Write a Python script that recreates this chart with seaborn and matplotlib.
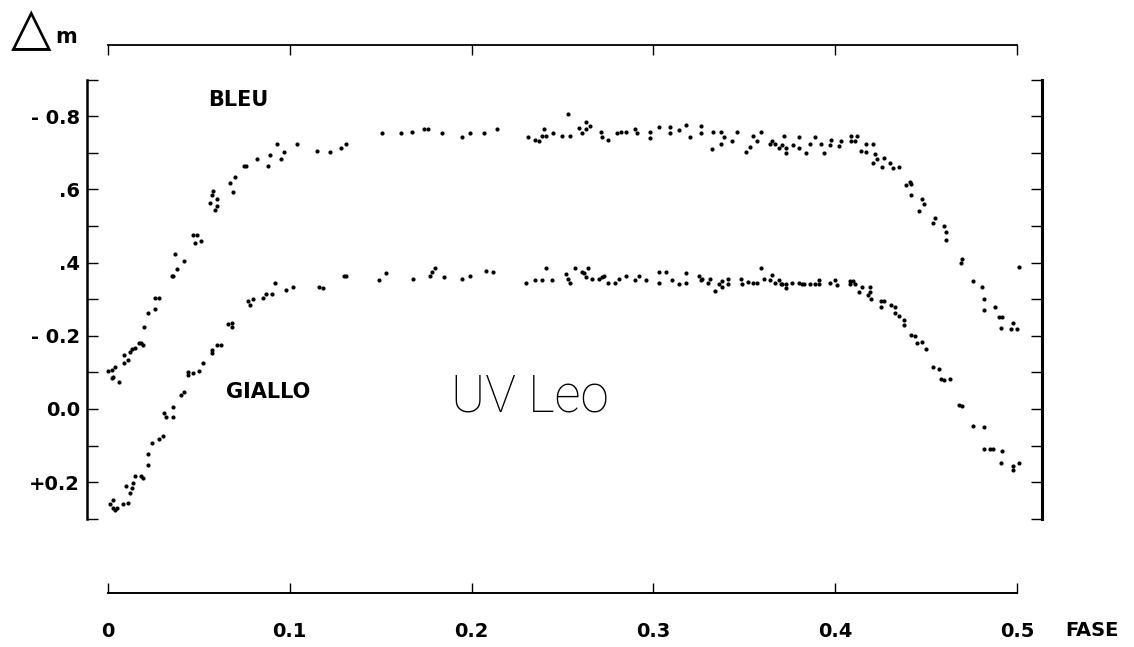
import matplotlib
matplotlib.use("Agg")
import matplotlib.pyplot as plt
import seaborn as sns
import pandas as pd

# ---------------- data ----------------
bleu_fase = [0.000, 0.002, 0.002, 0.003, 0.004, 0.006, 0.009, 0.009, 0.011, 0.012,
             0.013, 0.015, 0.017, 0.018, 0.019, 0.020, 0.022, 0.026, 0.026, 0.028,
             0.035, 0.036, 0.037, 0.038, 0.042, 0.047, 0.048, 0.049, 0.051, 0.056,
             0.057, 0.058, 0.059, 0.060, 0.060, 0.067, 0.069, 0.070, 0.075, 0.076,
             0.082, 0.088, 0.089, 0.093, 0.095, 0.097, 0.104, 0.115, 0.122, 0.128,
             0.131, 0.151, 0.161, 0.167, 0.174, 0.176, 0.184, 0.195, 0.199, 0.207,
             0.214, 0.231, 0.235, 0.237, 0.239, 0.240, 0.241, 0.245, 0.250, 0.253,
             0.254, 0.259, 0.261, 0.263, 0.263, 0.265, 0.271, 0.272, 0.275, 0.280,
             0.282, 0.285, 0.290, 0.291, 0.298, 0.298, 0.303, 0.309, 0.309, 0.314,
             0.318, 0.320, 0.326, 0.326, 0.332, 0.333, 0.337, 0.337, 0.339, 0.343,
             0.346, 0.351, 0.353, 0.355, 0.357, 0.359, 0.364, 0.365, 0.367, 0.369,
             0.371, 0.372, 0.373, 0.373, 0.377, 0.380, 0.380, 0.384, 0.386, 0.389,
             0.392, 0.394, 0.397, 0.398, 0.402, 0.403, 0.409, 0.409, 0.411, 0.412,
             0.414, 0.417, 0.417, 0.421, 0.421, 0.422, 0.423, 0.426, 0.427, 0.430,
             0.432, 0.435, 0.439, 0.441, 0.442, 0.442, 0.446, 0.448, 0.449, 0.454,
             0.455, 0.460, 0.461, 0.461, 0.469, 0.470, 0.476, 0.481, 0.482, 0.482,
             0.488, 0.490, 0.492, 0.491, 0.497, 0.498, 0.500, 0.501]
bleu_dm = [-0.104, -0.085, -0.107, -0.087, -0.115, -0.074, -0.126, -0.148, -0.134, -0.156,
           -0.164, -0.167, -0.180, -0.180, -0.175, -0.224, -0.262, -0.303, -0.273, -0.303,
           -0.363, -0.363, -0.423, -0.382, -0.404, -0.475, -0.454, -0.475, -0.459, -0.563,
           -0.585, -0.596, -0.544, -0.555, -0.574, -0.617, -0.593, -0.634, -0.664, -0.664,
           -0.683, -0.664, -0.694, -0.724, -0.683, -0.702, -0.724, -0.705, -0.702, -0.713,
           -0.724, -0.754, -0.754, -0.757, -0.765, -0.765, -0.754, -0.743, -0.754, -0.754,
           -0.765, -0.743, -0.735, -0.732, -0.746, -0.765, -0.746, -0.754, -0.746, -0.806,
           -0.746, -0.768, -0.754, -0.784, -0.765, -0.773, -0.757, -0.743, -0.735, -0.754,
           -0.757, -0.757, -0.765, -0.754, -0.740, -0.757, -0.770, -0.770, -0.754, -0.762,
           -0.776, -0.743, -0.773, -0.754, -0.710, -0.757, -0.757, -0.724, -0.743, -0.732,
           -0.757, -0.702, -0.716, -0.746, -0.732, -0.757, -0.724, -0.732, -0.724, -0.713,
           -0.721, -0.746, -0.713, -0.699, -0.721, -0.743, -0.713, -0.699, -0.724, -0.743,
           -0.724, -0.699, -0.721, -0.735, -0.719, -0.732, -0.746, -0.732, -0.732, -0.746,
           -0.705, -0.702, -0.724, -0.724, -0.672, -0.697, -0.683, -0.661, -0.686, -0.672,
           -0.658, -0.661, -0.612, -0.620, -0.615, -0.585, -0.541, -0.574, -0.560, -0.508,
           -0.522, -0.500, -0.484, -0.462, -0.399, -0.410, -0.350, -0.333, -0.301, -0.270,
           -0.279, -0.251, -0.251, -0.221, -0.219, -0.235, -0.219, -0.388]

giallo_fase = [0.001, 0.003, 0.003, 0.004, 0.005, 0.008, 0.010, 0.011, 0.012, 0.013,
               0.014, 0.015, 0.018, 0.019, 0.022, 0.022, 0.024, 0.028, 0.030, 0.031,
               0.032, 0.036, 0.036, 0.040, 0.042, 0.044, 0.044, 0.047, 0.050, 0.052,
               0.057, 0.057, 0.060, 0.062, 0.066, 0.068, 0.068, 0.077, 0.078, 0.080,
               0.085, 0.087, 0.090, 0.092, 0.098, 0.102, 0.116, 0.118, 0.130, 0.131,
               0.149, 0.153, 0.168, 0.177, 0.178, 0.180, 0.185, 0.195, 0.199, 0.208,
               0.212, 0.230, 0.235, 0.239, 0.241, 0.244, 0.252, 0.253, 0.254, 0.257,
               0.261, 0.262, 0.263, 0.264, 0.266, 0.270, 0.272, 0.273, 0.275, 0.279,
               0.281, 0.285, 0.290, 0.292, 0.296, 0.303, 0.303, 0.307, 0.310, 0.314,
               0.318, 0.318, 0.325, 0.326, 0.327, 0.330, 0.331, 0.334, 0.336, 0.338,
               0.338, 0.341, 0.341, 0.348, 0.349, 0.352, 0.355, 0.357, 0.359, 0.361,
               0.364, 0.365, 0.367, 0.369, 0.370, 0.371, 0.373, 0.373, 0.376, 0.380,
               0.382, 0.383, 0.386, 0.389, 0.391, 0.391, 0.397, 0.400, 0.401, 0.408,
               0.408, 0.410, 0.411, 0.413, 0.415, 0.418, 0.419, 0.419, 0.420, 0.425,
               0.425, 0.427, 0.431, 0.433, 0.433, 0.435, 0.438, 0.438, 0.442, 0.444,
               0.445, 0.448, 0.450, 0.454, 0.457, 0.458, 0.460, 0.463, 0.468, 0.470,
               0.476, 0.482, 0.482, 0.485, 0.487, 0.491, 0.492, 0.498, 0.498, 0.501]
giallo_dm = [0.260, 0.270, 0.249, 0.276, 0.270, 0.260, 0.210, 0.257, 0.229, 0.216,
             0.202, 0.183, 0.183, 0.189, 0.153, 0.123, 0.093, 0.082, 0.074, 0.011,
             0.022, -0.005, 0.022, -0.038, -0.046, -0.101, -0.093, -0.098, -0.104, -0.126,
             -0.161, -0.153, -0.175, -0.175, -0.232, -0.224, -0.235, -0.295, -0.284, -0.301,
             -0.303, -0.314, -0.314, -0.344, -0.325, -0.333, -0.333, -0.331, -0.363, -0.363,
             -0.352, -0.372, -0.355, -0.363, -0.374, -0.385, -0.361, -0.355, -0.363, -0.377,
             -0.374, -0.344, -0.352, -0.352, -0.385, -0.352, -0.369, -0.355, -0.344, -0.385,
             -0.374, -0.372, -0.361, -0.385, -0.355, -0.355, -0.361, -0.363, -0.344, -0.344,
             -0.355, -0.363, -0.352, -0.363, -0.352, -0.374, -0.344, -0.374, -0.352, -0.342,
             -0.372, -0.344, -0.363, -0.352, -0.355, -0.344, -0.355, -0.322, -0.342, -0.333,
             -0.350, -0.355, -0.342, -0.355, -0.342, -0.347, -0.344, -0.344, -0.385, -0.355,
             -0.352, -0.366, -0.344, -0.352, -0.342, -0.342, -0.331, -0.342, -0.344, -0.344,
             -0.342, -0.342, -0.342, -0.342, -0.352, -0.342, -0.344, -0.352, -0.339, -0.350,
             -0.342, -0.350, -0.342, -0.320, -0.333, -0.311, -0.333, -0.320, -0.301, -0.295,
             -0.279, -0.295, -0.284, -0.279, -0.262, -0.254, -0.243, -0.229, -0.202, -0.199,
             -0.180, -0.183, -0.164, -0.115, -0.109, -0.082, -0.079, -0.082, -0.011, -0.008,
             0.046, 0.049, 0.109, 0.109, 0.109, 0.148, 0.115, 0.156, 0.167, 0.148]

fase_ticks = [0.0, 0.1, 0.2, 0.3, 0.4, 0.5]
fase_labels = ["0", "0.1", "0.2", "0.3", "0.4", "0.5"]
dm_ticks = [-0.9, -0.8, -0.7, -0.6, -0.5, -0.4, -0.3, -0.2, -0.1, 0.0, 0.1, 0.2, 0.3]
dm_labels = ["", "- 0.8", "", ".6", "", ".4", "", "- 0.2", "", "0.0", "", "+0.2", ""]

# ---------------- figure ----------------
sns.set_theme(style="white")
plt.rcParams["font.family"] = ["DejaVu Sans"]
plt.rcParams["font.weight"] = "bold"

W, H = 1134, 647
fig = plt.figure(figsize=(W / 100, H / 100), dpi=100)
ax_left, ax_right, ax_top, ax_bot = 87, 1042, 79.6, 518.8
ax = fig.add_axes([ax_left / W, 1 - ax_bot / H, (ax_right - ax_left) / W, (ax_bot - ax_top) / H])

df = pd.concat([
    pd.DataFrame({"fase": bleu_fase, "dm": bleu_dm, "serie": "BLEU"}),
    pd.DataFrame({"fase": giallo_fase, "dm": giallo_dm, "serie": "GIALLO"}),
])
sns.scatterplot(data=df, x="fase", y="dm", color="black", s=9, linewidth=0,
                legend=False, ax=ax)

ax.set_xlim(-0.01155, 0.5138)
ax.set_ylim(0.3, -0.9)
ax.set_xlabel("")
ax.set_ylabel("")

ax.set_xticks(fase_ticks)
ax.set_xticklabels(fase_labels)
ax.set_yticks(dm_ticks)
ax.set_yticklabels(dm_labels)

for side in ["top", "bottom", "left", "right"]:
    ax.spines[side].set_visible(True)
    ax.spines[side].set_color("black")
ax.spines["left"].set_linewidth(1.8)
ax.spines["right"].set_linewidth(2.2)
ax.spines["top"].set_linewidth(1.3)
ax.spines["bottom"].set_linewidth(1.4)
ax.spines["top"].set_position(("outward", (ax_top - 45) * 0.72))
ax.spines["bottom"].set_position(("outward", (593 - ax_bot) * 0.72))
ax.spines["top"].set_bounds(0.0, 0.5)
ax.spines["bottom"].set_bounds(0.0, 0.5)

ax.tick_params(axis="x", which="both", direction="in", top=True, bottom=True,
               length=7, width=1.0, color="black", labeltop=False,
               labelsize=14, pad=21, labelcolor="black")
ax.tick_params(axis="y", which="both", direction="in", left=True, right=True,
               length=8, width=1.0, color="black", labelsize=14, pad=5,
               labelcolor="black")
for lab in ax.get_xticklabels() + ax.get_yticklabels():
    lab.set_fontweight("bold")

# texts
fig.text(1092 / W, 1 - 631 / H, "FASE", ha="center", va="center",
         fontsize=14, fontweight="bold", color="black")
fig.text(238 / W, 1 - 100 / H, "BLEU", ha="center", va="center",
         fontsize=15, fontweight="bold", color="black")
fig.text(268 / W, 1 - 392 / H, "GIALLO", ha="center", va="center",
         fontsize=15, fontweight="bold", color="black")
fig.text(530 / W, 1 - 397 / H, "UV Leo", ha="center", va="center",
         fontsize=37, fontweight="light", family=["Roboto", "DejaVu Sans"], color="black")
fig.text(31 / W, 1 - 29 / H, "\u25b3", ha="center", va="center",
         fontsize=38, fontweight="normal", color="black")
fig.text(66 / W, 1 - 37 / H, "m", ha="center", va="center",
         fontsize=15, fontweight="bold", color="black")

fig.savefig("out.png", dpi=100, facecolor="white")
